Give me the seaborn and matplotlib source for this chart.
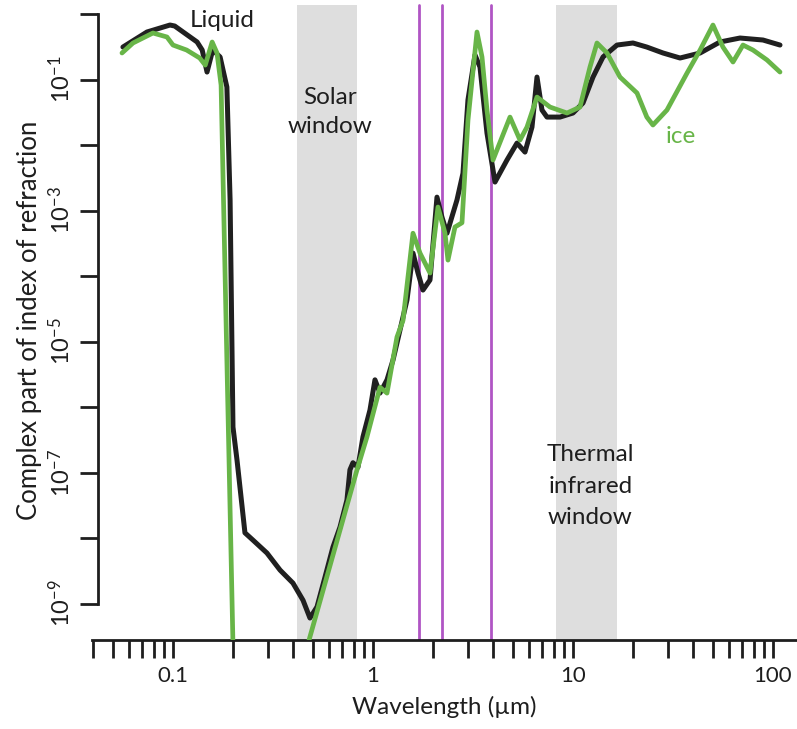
import numpy as np
import seaborn as sns
import matplotlib.pyplot as plt

# imaginary part of the refractive index of water
liquid_wl = [0.0562, 0.0741, 0.0966, 0.102, 0.132, 0.140, 0.148, 0.158, 0.172, 0.186,
             0.193, 0.1995, 0.209, 0.229, 0.251, 0.295, 0.343, 0.398, 0.447, 0.484,
             0.525, 0.575, 0.631, 0.684, 0.741, 0.767, 0.794, 0.841, 0.891, 0.966,
             1.023, 1.084, 1.175, 1.259, 1.365, 1.479, 1.585, 1.679, 1.778, 1.928,
             2.089, 2.213, 2.344, 2.630, 2.818, 2.985, 3.236, 3.428, 3.715, 4.074,
             4.677, 5.248, 5.754, 6.237, 6.607, 6.998, 7.413, 8.610, 10.0, 11.22,
             12.59, 14.13, 16.6, 19.95, 23.4, 28.2, 34.3, 43.2, 54.3, 68.4,
             89.1, 108.4]
liquid_k = [0.313, 0.531, 0.679, 0.656, 0.374, 0.282, 0.130, 0.282, 0.221, 0.0768,
            1.45e-3, 4.95e-7, 1.55e-7, 1.2e-8, 9.3e-9, 5.9e-9, 3.24e-9, 2.05e-9, 1.12e-9, 6.0e-10,
            8.9e-10, 2.5e-9, 7.3e-9, 1.47e-8, 3.8e-8, 1.1e-7, 1.41e-7, 1.2e-7, 3.5e-7, 9.0e-7,
            2.6e-6, 1.63e-6, 2.6e-6, 5.2e-6, 1.5e-5, 4.3e-5, 2.24e-4, 1.11e-4, 6.1e-5, 8.7e-5,
            1.6e-3, 7.9e-4, 4.5e-4, 1.45e-3, 3.7e-3, 0.049, 0.237, 0.155, 0.0152, 2.72e-3,
            5.9e-3, 0.0107, 7.8e-3, 0.0188, 0.109, 0.0342, 0.0267, 0.0267, 0.0308, 0.0438,
            0.109, 0.221, 0.336, 0.361, 0.313, 0.254, 0.213, 0.254, 0.374, 0.430,
            0.401, 0.336]

ice_wl = [0.0556, 0.0631, 0.0794, 0.0933, 0.100, 0.117, 0.136, 0.145, 0.157, 0.166,
          0.174, 0.186, 0.204, 0.355, 0.484, 0.631, 0.832, 0.933, 1.084, 1.175,
          1.318, 1.413, 1.585, 1.718, 1.928, 2.113, 2.291, 2.371, 2.570, 2.786,
          2.985, 3.311, 3.508, 3.715, 3.981, 4.842, 5.433, 5.888, 6.607, 7.674,
          9.333, 10.84, 12.16, 13.18, 14.79, 17.18, 20.9, 23.4, 25.1, 29.5,
          37.2, 43.2, 50.1, 56.2, 63.1, 70.8, 79.4, 93.3, 108.4]
ice_k = [0.254, 0.361, 0.513, 0.446, 0.336, 0.282, 0.213, 0.166, 0.374, 0.254,
         0.0824, 5.2e-6, 1e-11, 1e-11, 3.1e-10, 5.5e-9, 1.1e-7, 3.5e-7, 2.0e-6, 1.63e-6,
         1.17e-5, 2.1e-5, 4.5e-4, 2.24e-4, 1.11e-4, 1.13e-3, 4.5e-4, 1.75e-4, 5.6e-4, 6.5e-4,
         0.024, 0.531, 0.221, 0.0342, 5.9e-3, 0.0267, 0.0119, 0.0188, 0.054, 0.038,
         0.0308, 0.038, 0.155, 0.361, 0.254, 0.109, 0.0622, 0.0267, 0.0202, 0.0342,
         0.126, 0.282, 0.679, 0.313, 0.185, 0.336, 0.282, 0.199, 0.130]

solar_window = (0.417, 0.83)
thermal_window = (8.2, 16.6)
channel_wl = [1.70, 2.21, 3.89]

x_ticks = [0.1, 1, 10, 100]
x_labels = ['0.1', '1', '10', '100']
y_ticks = [10.0 ** e for e in range(-9, 1)]
y_labels = [r'$10^{%d}$' % e if e % 2 else '' for e in range(-9, 1)]

sns.set_style('ticks')
plt.rcParams['font.family'] = ['Lato', 'DejaVu Sans']
plt.rcParams['mathtext.fontset'] = 'custom'
plt.rcParams['mathtext.rm'] = 'Lato'
plt.rcParams['mathtext.it'] = 'Lato:italic'
plt.rcParams['mathtext.default'] = 'regular'

text_col = '#1e1e1e'
green = '#68b548'
black = '#202020'
purple = '#b055c4'

fig = plt.figure(figsize=(7.97, 7.29), dpi=100)
ax = fig.add_axes([0.1154, 0.1221, 0.8846, 0.8779])
ax.set_xscale('log')
ax.set_yscale('log')
ax.set_xlim(10 ** -1.405, 10 ** 2.12)
ax.set_ylim(10 ** -9.557, 10 ** 0.214)

top = 0.992
ax.axvspan(*solar_window, ymin=0, ymax=top, color='#dedede', lw=0, zorder=0)
ax.axvspan(*thermal_window, ymin=0, ymax=top, color='#dedede', lw=0, zorder=0)
for wl in channel_wl:
    ax.axvline(wl, ymin=0, ymax=top, color=purple, lw=2, zorder=1)

sns.lineplot(x=liquid_wl, y=liquid_k, ax=ax, color=black, lw=3.6, estimator=None,
             sort=False, zorder=3, solid_joinstyle='round', solid_capstyle='round')
sns.lineplot(x=ice_wl, y=ice_k, ax=ax, color=green, lw=3.4, estimator=None,
             sort=False, zorder=4, solid_joinstyle='round', solid_capstyle='round')

ax.text(0.176, 0.8, 'Liquid', fontsize=17.5, color=text_col, ha='center', va='center')
ax.text(0.61, 0.032, 'Solar\nwindow', fontsize=17.5, color=text_col, ha='center',
        va='center', linespacing=1.5)
ax.text(34.7, 0.0137, 'ice', fontsize=17.5, color=green, ha='center', va='center')
ax.text(12.2, 6.2e-8, 'Thermal\ninfrared\nwindow', fontsize=17.5, color=text_col,
        ha='center', va='center', linespacing=1.6)

ax.spines['top'].set_visible(False)
ax.spines['right'].set_visible(False)
ax.spines['left'].set_position(('outward', -4))
ax.spines['left'].set_bounds(1e-9, 1)
for s in ('left', 'bottom'):
    ax.spines[s].set_linewidth(2)
    ax.spines[s].set_color(text_col)

ax.set_yticks(y_ticks)
ax.set_yticklabels(y_labels, rotation=90, va='center', fontsize=17, color=text_col)
ax.yaxis.set_minor_locator(plt.NullLocator())
ax.tick_params(axis='y', which='major', length=13, width=2, direction='out', pad=4,
               color=text_col)

ax.set_xticks(x_ticks)
ax.set_xticklabels(x_labels, fontsize=16, color=text_col)
ax.xaxis.set_minor_locator(plt.matplotlib.ticker.LogLocator(base=10, subs=np.arange(2, 10)))
ax.xaxis.set_minor_formatter(plt.NullFormatter())
ax.tick_params(axis='x', which='both', length=13, width=2, direction='out', pad=6,
               color=text_col)

ax.set_xlabel('Wavelength (µm)', fontsize=17.5, color=text_col, labelpad=7)
ax.set_ylabel('Complex part of index of refraction', fontsize=18.5, color=text_col,
              labelpad=4)

fig.savefig('out.png', dpi=100)
